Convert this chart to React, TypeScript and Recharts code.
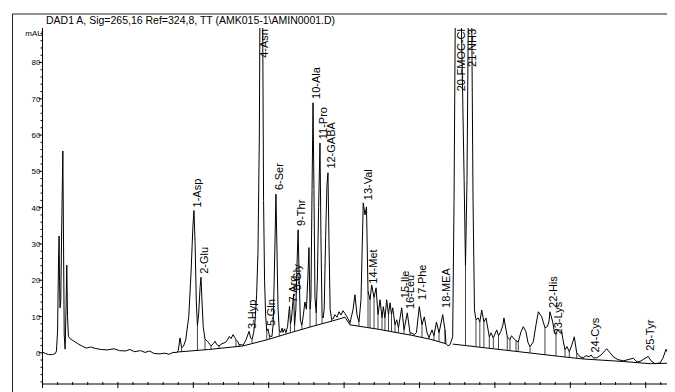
import { ComposedChart, Line, Scatter, XAxis, YAxis } from "recharts";

const TITLE = "DAD1 A, Sig=265,16 Ref=324,8, TT (AMK015-1\\AMIN0001.D)";
const Y_UNIT = "mAU";
const FONT = "'Liberation Sans', Arial, sans-serif";

// detector trace: [retention time (min), signal (mAU)]
const trace: [number, number][] = [
  [0.0, 0.2], [0.04, -0.2], [0.08, -0.5], [0.13, -0.5], [0.17, -0.2], [0.185, 0.5],
  [0.2, 6], [0.212, 25], [0.22, 32.2], [0.226, 20], [0.232, 12.4], [0.242, 14],
  [0.255, 35], [0.27, 55.6], [0.279, 30], [0.288, 5], [0.3, 1.0], [0.312, 12],
  [0.322, 24.2], [0.332, 10], [0.344, 4.5], [0.37, 3.8], [0.41, 3.3], [0.46, 2.6],
  [0.52, 1.9], [0.58, 1.3], [0.64, 1.6], [0.7, 1.2], [0.78, 0.9], [0.86, 0.8],
  [0.95, 1.1], [1.02, 0.6], [1.1, 0.5], [1.16, 0.9], [1.22, 0.3], [1.3, 0.6],
  [1.36, 0.1], [1.42, 0.5], [1.48, -0.2], [1.56, -0.3], [1.62, -0.1], [1.68, -0.4],
  [1.73, 0.1], [1.78, 0.1],
  [1.8, 0.6], [1.824, 4.1], [1.845, 1.4], [1.87, 1.8], [1.9, 3.6], [1.94, 10],
  [1.97, 22], [1.995, 35], [2.009, 39.2], [2.024, 30], [2.04, 14], [2.055, 7.5],
  [2.072, 11], [2.09, 18], [2.102, 20.8], [2.116, 14], [2.132, 7], [2.155, 3.8],
  [2.19, 3.1], [2.235, 1.9], [2.265, 2.5], [2.288, 3.2], [2.31, 2.3], [2.341, 1.9],
  [2.38, 2.5], [2.43, 2.9], [2.46, 3.8], [2.478, 4.5], [2.5, 3.9], [2.527, 5.0],
  [2.55, 4.2], [2.566, 3.6], [2.59, 3.1], [2.606, 2.3], [2.635, 2.2], [2.66, 2.1],
  [2.7, 3.6], [2.739, 5.9], [2.76, 4.1], [2.779, 3.7], [2.8, 5.5], [2.818, 8.5],
  [2.84, 16], [2.858, 28], [2.876, 60], [2.89, 120], [2.904, 150], [2.918, 100],
  [2.932, 42], [2.945, 20], [2.96, 10], [2.974, 6], [2.99, 6.6], [3.01, 4.6],
  [3.043, 4.5], [3.06, 8], [3.078, 25], [3.096, 43.7], [3.11, 28], [3.124, 12],
  [3.14, 6.3], [3.16, 5.6], [3.178, 6.8], [3.19, 5.6], [3.21, 6.6], [3.229, 5.6],
  [3.25, 7.2], [3.276, 12.8], [3.288, 8], [3.3, 9], [3.33, 16.2], [3.343, 7.5],
  [3.36, 12], [3.375, 24], [3.39, 33.9], [3.405, 20], [3.42, 9], [3.44, 7.6],
  [3.46, 10.5], [3.48, 14], [3.5, 12], [3.518, 20], [3.534, 29], [3.548, 12],
  [3.56, 15], [3.575, 45], [3.588, 68.9], [3.6, 45], [3.614, 15], [3.63, 11],
  [3.645, 20], [3.662, 40], [3.68, 57.8], [3.694, 30], [3.708, 10.2], [3.722, 9.6],
  [3.736, 12], [3.755, 32], [3.772, 46], [3.786, 49.6], [3.8, 30], [3.815, 12],
  [3.833, 9.4], [3.853, 9.3], [3.879, 10.5], [3.906, 9.8], [3.932, 11.3], [3.959, 10.4],
  [3.985, 11.6], [4.012, 10.8], [4.039, 9.9], [4.078, 8.3], [4.118, 11.8], [4.144, 16],
  [4.171, 10.5], [4.197, 8.5], [4.224, 14.6], [4.254, 41.3], [4.277, 38], [4.297, 40.2],
  [4.317, 17], [4.344, 14.6], [4.366, 18.7], [4.397, 15.2], [4.424, 17.9], [4.45, 10.5],
  [4.477, 14.6], [4.503, 9.6], [4.52, 12.7], [4.542, 9.6], [4.565, 14.6], [4.589, 10.5],
  [4.609, 13.8], [4.629, 10.6], [4.645, 12.4], [4.675, 7.7], [4.698, 9.1], [4.721, 6.9],
  [4.764, 12.4], [4.795, 6.3], [4.838, 11], [4.874, 5.5], [4.9, 5.4], [4.93, 5.0],
  [4.96, 5.6], [4.997, 12.7], [5.033, 7.7], [5.064, 9.9], [5.1, 5.5], [5.126, 4.2],
  [5.166, 6.3], [5.192, 4.7], [5.225, 8.5], [5.259, 5.5], [5.308, 10.5], [5.338, 6.3],
  [5.351, 2.5], [5.378, 1.9], [5.404, 2.2], [5.44, 4.4], [5.458, 42], [5.477, 100],
  [5.511, 150], [5.545, 100], [5.565, 80], [5.592, 47.7], [5.61, 24], [5.63, 47.7],
  [5.65, 100], [5.67, 150], [5.69, 100], [5.71, 42], [5.729, 11.8], [5.749, 9.1],
  [5.78, 9.6], [5.8, 8.5], [5.825, 11.8], [5.854, 8.5], [5.882, 9.6], [5.926, 4.4],
  [5.948, 5.5], [5.979, 4.1], [6.024, 6.3], [6.048, 4.7], [6.077, 5.8], [6.107, 7.7],
  [6.12, 9.6], [6.164, 4.4], [6.2, 3.6], [6.22, 4.7], [6.244, 4.1], [6.28, 3.3],
  [6.31, 3.0], [6.346, 5.8], [6.377, 7.2], [6.412, 5.8], [6.439, 2.8], [6.466, 1.7],
  [6.509, 3.0], [6.545, 7.7], [6.576, 11.3], [6.621, 9.9], [6.664, 6.9], [6.695, 7.2],
  [6.717, 8.5], [6.73, 11.3], [6.767, 8.5], [6.79, 5.5], [6.81, 5.0], [6.83, 6.3],
  [6.854, 6.3], [6.886, 5.8], [6.903, 3.6], [6.93, 0.8], [6.956, 1.7], [6.987, 0.3],
  [7.022, 2.2], [7.053, 4.4], [7.085, 0], [7.128, -1.1], [7.172, -1.4], [7.208, -0.8],
  [7.252, -1.1], [7.275, -0.6], [7.305, -1.4], [7.35, -1.4], [7.407, -0.6], [7.483, 1.1],
  [7.527, 0], [7.57, -1.1], [7.633, -1.9], [7.703, -2.2], [7.765, -1.9], [7.835, -1.5],
  [7.885, -2.5], [7.924, -2.4], [7.978, -1.7], [8.034, -1.0], [8.07, -2.2], [8.123, -3.0],
  [8.19, -2.8], [8.23, -1.4], [8.27, 1.0], [8.296, -0.3], [8.322, -1.5], [8.389, -1.9],
  [8.45, -1.9],
];

// integration baselines
const baseline1: [number, number][] = [
  [1.78, 0.2], [2.2, 0.9], [2.66, 1.9], [2.98, 3.6], [3.3, 5.6], [3.6, 7.4],
  [3.85, 8.8], [4.012, 9.8], [4.08, 7.7], [4.45, 6.5], [4.9, 4.8], [5.15, 3.7], [5.35, 2.5],
];
const baseline2: [number, number][] = [
  [5.44, 2.4], [6.86, -1.0], [7.17, -1.7], [7.7, -2.4], [8.06, -3.0], [8.45, -2.8],
];

// peak splits: time, signal at the valley, baseline under it
const drops: [number, number, number][] = [
  [1.845, 1.4, 0.3], [2.055, 7.5, 0.6], [2.155, 3.8, 0.8], [2.235, 1.9, 1.0],
  [2.341, 1.9, 1.2], [2.566, 3.6, 1.6], [2.606, 2.3, 1.7], [2.779, 3.7, 2.5],
  [2.974, 6, 3.6], [3.01, 4.6, 3.8], [3.14, 6.3, 4.6], [3.229, 5.6, 5.2],
  [3.288, 8, 5.5], [3.343, 7.5, 5.9], [3.44, 7.6, 6.4], [3.548, 12, 7.1],
  [3.63, 11, 7.6], [3.708, 10.2, 8.0], [3.833, 9.4, 8.7], [4.078, 8.3, 7.7],
  [4.197, 8.5, 7.3], [4.317, 17, 6.9], [4.344, 14.6, 6.8], [4.397, 15.2, 6.7],
  [4.45, 10.5, 6.5], [4.503, 9.6, 6.3], [4.542, 9.6, 6.2], [4.589, 10.5, 6.0],
  [4.629, 10.6, 5.9], [4.675, 7.7, 5.7], [4.721, 6.9, 5.5], [4.795, 6.3, 5.2],
  [4.874, 5.5, 4.9], [4.93, 5.0, 4.7], [5.033, 7.7, 4.2], [5.126, 4.2, 3.8],
  [5.192, 4.7, 3.4], [5.259, 5.5, 3.0], [5.338, 6.3, 2.6], [5.61, 24, 2.0],
  [5.749, 9.1, 1.7], [5.8, 8.5, 1.6], [5.854, 8.5, 1.5], [5.926, 4.4, 1.3],
  [5.979, 4.1, 1.2], [6.048, 4.7, 1.0], [6.164, 4.4, 0.8], [6.2, 3.6, 0.7],
  [6.28, 3.3, 0.5], [6.31, 3.0, 0.4], [6.466, 1.7, 0.0], [6.664, 6.9, -0.5],
  [6.81, 5.0, -0.9], [6.93, 0.8, -1.1], [6.987, 0.3, -1.2], [7.085, 0, -1.5],
  [7.172, -1.4, -1.7],
];

const peakNames = [
  "1-Asp", "2-Glu", "3-Hyp", "4-Asn", "5-Gln", "6-Ser", "7-Arg", "8-Gly",
  "9-Thr", "10-Ala", "11-Pro", "12-GABA", "13-Val", "14-Met", "15-Ile", "16-Leu",
  "17-Phe", "18-MEA", "20-FMOC-Cl", "21-NH3", "22-His", "23-Lys", "24-Cys", "25-Tyr",
];
const peakTimes = [
  2.009, 2.102, 2.739, 2.904, 2.99, 3.096, 3.276, 3.33,
  3.39, 3.588, 3.68, 3.786, 4.28, 4.35, 4.764, 4.83,
  4.997, 5.308, 5.511, 5.66, 6.73, 6.8, 7.29, 8.02,
];
// null = peak runs off the top, label pinned to the top edge
const peakLabelAt: (number | null)[] = [
  39.5, 21.2, 6, null, 6.8, 44.3, 13.3, 16.6,
  34.4, 69.4, 58.3, 50.2, 41.5, 18.5, 14.5, 11.5,
  14, 11.8, null, null, 11.8, 4.5, -0.5, 0,
];

const xMajor = [0, 1, 2, 3, 4, 5, 6, 7, 8];
const yMajor = [0, 10, 20, 30, 40, 50, 60, 70, 80];
const X_DOMAIN: [number, number] = [0, 8.5];
const Y_DOMAIN: [number, number] = [-8.6, 89.5];

const xTicks = Array.from({ length: 43 }, (_, i) => Math.round(i * 2) / 10);
const yTicks = Array.from({ length: 49 }, (_, i) => -8 + i * 2);

const traceData = trace.map(([t, v]) => ({ t, v }));
const baseData = [
  ...baseline1.map(([t, v]) => ({ t, v })),
  { t: baseline1[baseline1.length - 1][0], v: null },
  ...baseline2.map(([t, v]) => ({ t, v })),
];
const dropData = drops.flatMap(([t, top, bot]) => [
  { t, v: top },
  { t, v: bot },
  { t, v: null },
]);
const labelData = peakNames.map((name, i) => ({
  name,
  t: peakTimes[i],
  v: peakLabelAt[i] ?? Y_DOMAIN[1],
  top: peakLabelAt[i] == null,
}));

const YTick = ({ x, y, payload }: any) => {
  const major = yMajor.includes(payload.value);
  return (
    <g>
      <line x1={x - (major ? 4 : 2)} x2={x} y1={y} y2={y} stroke="#000" strokeWidth={1} />
      {major && (
        <text x={x - 2} y={y + 3} textAnchor="end" fontSize={8} fontFamily={FONT} fill="#000">
          {payload.value}
        </text>
      )}
    </g>
  );
};

const XTick = ({ x, y, payload }: any) => {
  const major = xMajor.includes(payload.value);
  return (
    <g>
      <line x1={x} x2={x} y1={y - 2} y2={y + (major ? 4 : 1)} stroke="#000" strokeWidth={1} />
      {major && (
        <text x={x} y={y + 13} textAnchor="middle" fontSize={8} fontFamily={FONT} fill="#000">
          {payload.value}
        </text>
      )}
    </g>
  );
};

const PeakLabel = (props: any) => {
  const { cx, cy, payload } = props;
  if (cx == null || cy == null) return null;
  const top = payload.top;
  return (
    <text
      transform={`translate(${cx + 3},${top ? cy + 1 : cy - 2}) rotate(-90)`}
      textAnchor={top ? "end" : "start"}
      dominantBaseline="central"
      fontSize={11}
      fontFamily={FONT}
      fill="#000"
    >
      {payload.name}
    </text>
  );
};

export default function App() {
  return (
    <div style={{ position: "relative", width: 667, height: 384, overflow: "hidden", background: "#fff" }}>
      <div style={{ position: "absolute", left: 0, top: 0 }}>
        <ComposedChart width={680} height={410} margin={{ top: 20, right: 4.6, bottom: 4, left: 0 }}>
          <XAxis
            dataKey="t"
            type="number"
            domain={X_DOMAIN}
            allowDataOverflow
            ticks={xTicks}
            interval={0}
            tick={<XTick />}
            tickLine={false}
            tickSize={0}
            tickMargin={0}
            height={30}
            axisLine={{ stroke: "#000" }}
          />
          <YAxis
            dataKey="v"
            type="number"
            domain={Y_DOMAIN}
            allowDataOverflow
            ticks={yTicks}
            interval={0}
            tick={<YTick />}
            tickLine={false}
            tickSize={0}
            tickMargin={0}
            width={34.5}
            axisLine={{ stroke: "#000" }}
          />
          <Line
            data={baseData}
            dataKey="v"
            stroke="#000"
            strokeWidth={1}
            dot={false}
            activeDot={false}
            isAnimationActive={false}
          />
          <Line
            data={dropData}
            dataKey="v"
            stroke="#111"
            strokeWidth={0.8}
            dot={false}
            activeDot={false}
            isAnimationActive={false}
          />
          <Line
            data={traceData}
            dataKey="v"
            stroke="#000"
            strokeWidth={1}
            dot={false}
            activeDot={false}
            isAnimationActive={false}
          />
          <Scatter data={labelData} dataKey="v" shape={<PeakLabel />} isAnimationActive={false} />
        </ComposedChart>
      </div>
      <svg
        width={667}
        height={384}
        style={{ position: "absolute", left: 0, top: 0, pointerEvents: "none" }}
      >
        <line x1={4.5} y1={6} x2={4.5} y2={384} stroke="#222" strokeWidth={1} />
        <line x1={4} y1={6} x2={667} y2={6} stroke="#222" strokeWidth={1} />
        <text x={38} y={16} fontSize={10.5} fontFamily={FONT} fill="#000">
          {TITLE}
        </text>
        <text x={35} y={28} textAnchor="end" fontSize={8} fontFamily={FONT} fill="#000">
          {Y_UNIT}
        </text>
      </svg>
    </div>
  );
}
